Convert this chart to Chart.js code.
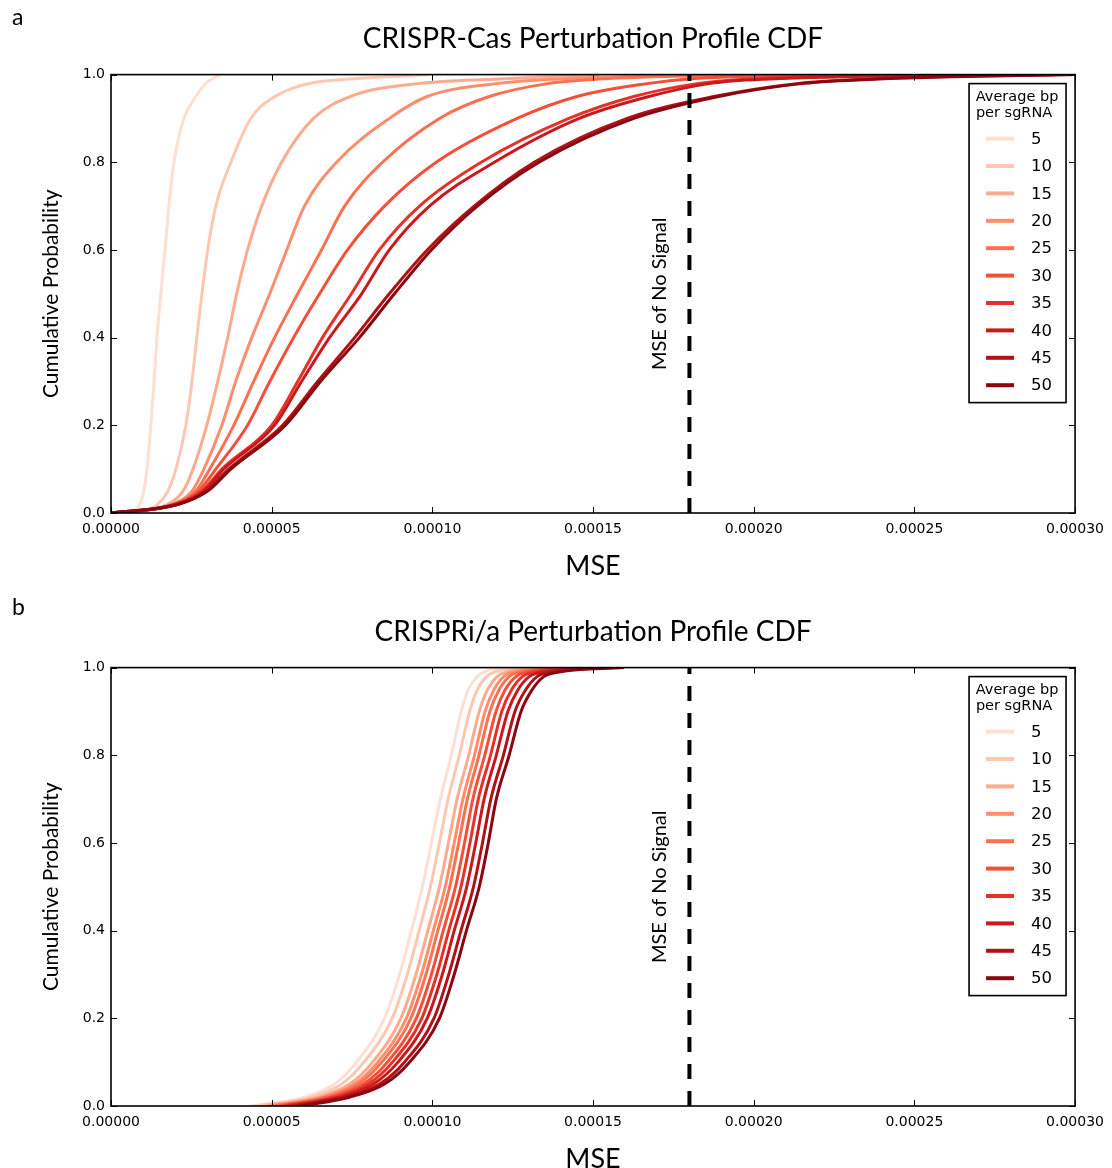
<!DOCTYPE html>
<html>
<head>
<meta charset="utf-8">
<script src="https://cdn.jsdelivr.net/npm/chart.js@4.4.1/dist/chart.umd.min.js"></script>
<style>
    html, body { margin: 0; padding: 0; background: #fff; overflow: hidden; }
    canvas { display: block; }
</style>
</head>
<body>
<canvas id="chartCas" width="1112" height="593"></canvas>
<canvas id="chartIa" width="1112" height="593"></canvas>
<script>

//
// DATA (MSE values are in units of 1e-5)
//

const MSE_UNIT = 1e-5;

const bpPerSgRNA = [5, 10, 15, 20, 25, 30, 35, 40, 45, 50];

const cdfLevels = [0, 0.02, 0.05, 0.1, 0.2, 0.3, 0.4, 0.5, 0.6, 0.7, 0.8, 0.9, 0.95, 0.98, 0.99, 1.0];

// panel a: CRISPR-Cas
const cas5  = [0.59, 0.90, 1.02, 1.12, 1.24, 1.34, 1.43, 1.55, 1.68, 1.80, 1.96, 2.27, 2.64, 2.95, 3.14, 3.42];
const cas10 = [0.84, 1.46, 1.77, 2.02, 2.33, 2.52, 2.67, 2.83, 3.01, 3.26, 3.73, 4.35, 5.10, 6.20, 7.42, 9.91];
const cas15 = [0.22, 1.77, 2.24, 2.55, 2.98, 3.32, 3.63, 3.91, 4.25, 4.69, 5.31, 6.30, 7.45, 9.60, 12.08, 15.19];
const cas20 = [0.09, 1.89, 2.52, 2.89, 3.45, 3.88, 4.38, 4.94, 5.47, 6.02, 7.02, 8.66, 9.84, 12.08, 13.94, 18.29];
const cas25 = [0.03, 1.96, 2.64, 3.07, 3.82, 4.44, 5.09, 5.81, 6.55, 7.27, 8.45, 10.22, 11.77, 13.63, 15.19, 19.84];
const cas30 = [0.03, 1.99, 2.73, 3.26, 4.25, 4.94, 5.68, 6.49, 7.36, 8.51, 10.12, 12.64, 14.50, 16.74, 17.98, 22.95];
const cas35 = [0.00, 2.02, 2.83, 3.45, 5.00, 5.81, 6.58, 7.48, 8.35, 9.60, 11.52, 14.25, 16.27, 18.29, 19.84, 26.06];
const cas40 = [0.00, 2.05, 2.89, 3.51, 5.09, 5.93, 6.80, 7.80, 8.66, 9.91, 11.93, 14.57, 16.74, 18.66, 20.47, 26.99];
const cas45 = [0.00, 2.08, 2.95, 3.66, 5.34, 6.43, 7.58, 8.66, 9.84, 11.30, 13.17, 16.06, 18.76, 21.40, 23.57, 29.47];
const cas50 = [0.00, 2.11, 3.01, 3.73, 5.43, 6.52, 7.73, 8.82, 9.97, 11.40, 13.32, 16.27, 18.91, 21.55, 23.88, 29.97];

// panel b: CRISPRi/a
const ia5  = [4.32, 6.02, 6.96, 7.64, 8.51, 8.98, 9.35, 9.69, 9.97, 10.25, 10.59, 10.90, 11.12, 11.40, 11.61, 12.08];
const ia10 = [4.54, 6.22, 7.18, 7.87, 8.75, 9.22, 9.59, 9.94, 10.22, 10.49, 10.84, 11.16, 11.40, 11.69, 11.94, 12.62];
const ia15 = [4.79, 6.44, 7.43, 8.14, 9.02, 9.49, 9.86, 10.22, 10.50, 10.77, 11.13, 11.46, 11.72, 12.02, 12.31, 13.24];
const ia20 = [4.94, 6.58, 7.58, 8.30, 9.19, 9.66, 10.03, 10.40, 10.68, 10.95, 11.31, 11.64, 11.92, 12.23, 12.54, 13.63];
const ia25 = [5.06, 6.69, 7.70, 8.43, 9.33, 9.80, 10.17, 10.54, 10.82, 11.09, 11.45, 11.79, 12.08, 12.40, 12.73, 13.94];
const ia30 = [5.22, 6.83, 7.86, 8.60, 9.50, 9.97, 10.34, 10.72, 11.00, 11.26, 11.63, 11.98, 12.27, 12.61, 12.96, 14.33];
const ia35 = [5.37, 6.97, 8.01, 8.76, 9.67, 10.14, 10.51, 10.89, 11.17, 11.43, 11.81, 12.16, 12.47, 12.81, 13.19, 14.72];
const ia40 = [5.53, 7.11, 8.17, 8.93, 9.84, 10.31, 10.68, 11.07, 11.35, 11.61, 11.99, 12.35, 12.67, 13.02, 13.43, 15.11];
const ia45 = [5.72, 7.28, 8.36, 9.13, 10.05, 10.51, 10.89, 11.28, 11.56, 11.82, 12.21, 12.57, 12.91, 13.27, 13.71, 15.57];
const ia50 = [5.87, 7.42, 8.51, 9.29, 10.22, 10.68, 11.06, 11.46, 11.74, 11.99, 12.39, 12.76, 13.11, 13.48, 13.94, 15.96];

const casSeries = [cas5, cas10, cas15, cas20, cas25, cas30, cas35, cas40, cas45, cas50];
const iaSeries = [ia5, ia10, ia15, ia20, ia25, ia30, ia35, ia40, ia45, ia50];

const noSignalMse = 18;

// matplotlib "Reds"
const seriesColors = [
    "#fde0d4", "#fdc7b1", "#fcab8e", "#fc8d6d", "#fb7050",
    "#f45039", "#e53128", "#cb181d", "#b01217", "#8a0811"
];

//
// PLUGINS
//

const frameTicksPlugin = {
    id: "frameTicks",

    afterDatasetsDraw(chart) {

        const { ctx, chartArea: { left, right, top, bottom }, scales: { x, y } } = chart;

        ctx.save();
        ctx.strokeStyle = "#000";
        ctx.lineWidth = 1;

        // inward ticks on all four sides
        x.ticks.forEach(t => {
            const px = Math.round(x.getPixelForValue(t.value)) + 0.5;
            ctx.beginPath();
            ctx.moveTo(px, bottom);
            ctx.lineTo(px, bottom - 6);
            ctx.moveTo(px, top);
            ctx.lineTo(px, top + 6);
            ctx.stroke();
        });

        y.ticks.forEach(t => {
            const py = Math.round(y.getPixelForValue(t.value)) + 0.5;
            ctx.beginPath();
            ctx.moveTo(left, py);
            ctx.lineTo(left + 6, py);
            ctx.moveTo(right, py);
            ctx.lineTo(right - 6, py);
            ctx.stroke();
        });

        ctx.lineWidth = 1.6;
        ctx.strokeRect(left, top, right - left, bottom - top);

        ctx.restore();
    }
};

const noSignalLabelPlugin = {
    id: "noSignalLabel",

    afterDatasetsDraw(chart) {

        const { ctx, chartArea: { top, bottom }, scales: { x } } = chart;
        const xPos = x.getPixelForValue(noSignalMse);

        ctx.save();
        ctx.translate(xPos - 30, (top + bottom) / 2);
        ctx.rotate(-Math.PI / 2);
        ctx.fillStyle = "#000";
        ctx.font = "20px Lato";
        ctx.textAlign = "center";
        ctx.textBaseline = "middle";
        ctx.fillText("MSE of No Signal", 0, 0);
        ctx.restore();
    }
};

const bpLegendPlugin = {
    id: "bpLegend",

    afterDraw(chart) {

        const { ctx, chartArea: { right, top } } = chart;
        const items = chart.data.datasets.filter(ds => !ds.isReference);

        const boxLeft = right - 106;
        const boxTop = top + 9;
        const boxWidth = 97;
        const boxHeight = 319;

        ctx.save();

        ctx.fillStyle = "#fff";
        ctx.fillRect(boxLeft, boxTop, boxWidth, boxHeight);
        ctx.strokeStyle = "#000";
        ctx.lineWidth = 1.6;
        ctx.strokeRect(boxLeft, boxTop, boxWidth, boxHeight);

        // title
        ctx.fillStyle = "#000";
        ctx.font = "14.5px 'DejaVu Sans'";
        ctx.textAlign = "center";
        ctx.textBaseline = "middle";
        ctx.fillText("Average bp", boxLeft + 48, boxTop + 14);
        ctx.fillText("per sgRNA", boxLeft + 45, boxTop + 30);

        // entries
        ctx.font = "16.5px 'DejaVu Sans'";
        ctx.textAlign = "left";
        items.forEach((ds, i) => {
            const rowY = boxTop + 55 + i * 27.4;
            ctx.strokeStyle = ds.borderColor;
            ctx.lineWidth = 4;
            ctx.beginPath();
            ctx.moveTo(boxLeft + 17, rowY);
            ctx.lineTo(boxLeft + 45, rowY);
            ctx.stroke();
            ctx.fillStyle = "#000";
            ctx.fillText(ds.label, boxLeft + 62, rowY + 1);
        });

        ctx.restore();
    }
};

const panelLabelPlugin = {
    id: "panelLabel",

    afterDraw(chart, args, opts) {
        const { ctx } = chart;
        ctx.save();
        ctx.fillStyle = "#000";
        ctx.font = "23px Lato";
        ctx.textAlign = "left";
        ctx.textBaseline = "middle";
        ctx.fillText(opts.text, 12, opts.y);
        ctx.restore();
    }
};

Chart.register(frameTicksPlugin, noSignalLabelPlugin, bpLegendPlugin, panelLabelPlugin);

//
// CHART BUILDER
//

function buildDatasets(seriesList) {

    const datasets = seriesList.map((values, i) => ({
        label: String(bpPerSgRNA[i]),
        data: values.map((v, j) => ({ x: v, y: cdfLevels[j] })),
        borderColor: seriesColors[i],
        borderWidth: 3,
        pointRadius: 0,
        fill: false,
        cubicInterpolationMode: "monotone",
        order: seriesList.length - i
    }));

    // vertical "no signal" reference line
    datasets.push({
        label: "MSE of No Signal",
        isReference: true,
        data: [{ x: noSignalMse, y: 0 }, { x: noSignalMse, y: 1 }],
        borderColor: "#000",
        borderWidth: 4,
        borderDash: [15, 12],
        pointRadius: 0,
        fill: false,
        order: 0
    });

    return datasets;
}

function makeChart(canvasId, titleText, panel, seriesList) {

    return new Chart(document.getElementById(canvasId), {
        type: "line",

        data: {
            datasets: buildDatasets(seriesList)
        },

        options: {
            responsive: false,
            animation: false,
            parsing: false,

            layout: {
                padding: { top: 0, left: 0, right: 36, bottom: 0 }
            },

            scales: {
                x: {
                    type: "linear",
                    min: 0,
                    max: 30,
                    grid: { display: false, drawTicks: false },
                    border: { display: false },
                    ticks: {
                        stepSize: 5,
                        maxRotation: 0,
                        autoSkip: false,
                        padding: 8,
                        color: "#000",
                        font: { family: "'DejaVu Sans'", size: 14 },
                        callback: value => (value * MSE_UNIT).toFixed(5)
                    },
                    title: {
                        display: true,
                        text: "MSE",
                        color: "#000",
                        font: { family: "Lato", size: 27 },
                        padding: { top: 0, bottom: 11 }
                    },
                    afterFit(scale) {
                        scale.height = 80;
                    }
                },

                y: {
                    type: "linear",
                    min: 0,
                    max: 1,
                    grid: { display: false, drawTicks: false },
                    border: { display: false },
                    ticks: {
                        stepSize: 0.2,
                        padding: 6,
                        color: "#000",
                        font: { family: "'DejaVu Sans'", size: 14 },
                        callback: value => value.toFixed(1)
                    },
                    title: {
                        display: true,
                        text: "Cumulative Probability",
                        color: "#000",
                        font: { family: "Lato", size: 21 },
                        padding: { top: 39, bottom: 0 }
                    },
                    afterFit(scale) {
                        scale.width = 111;
                    }
                }
            },

            plugins: {
                legend: { display: false },
                tooltip: { enabled: false },
                title: {
                    display: true,
                    text: titleText,
                    fullSize: false,
                    color: "#000",
                    font: { family: "Lato", size: 28, weight: "normal" },
                    padding: { top: 22, bottom: 19 }
                },
                panelLabel: panel
            }
        }
    });
}

makeChart("chartCas", "CRISPR-Cas Perturbation Profile CDF", { text: "a", y: 18 }, casSeries);
makeChart("chartIa", "CRISPRi/a Perturbation Profile CDF", { text: "b", y: 15 }, iaSeries);

</script>
</body>
</html>
